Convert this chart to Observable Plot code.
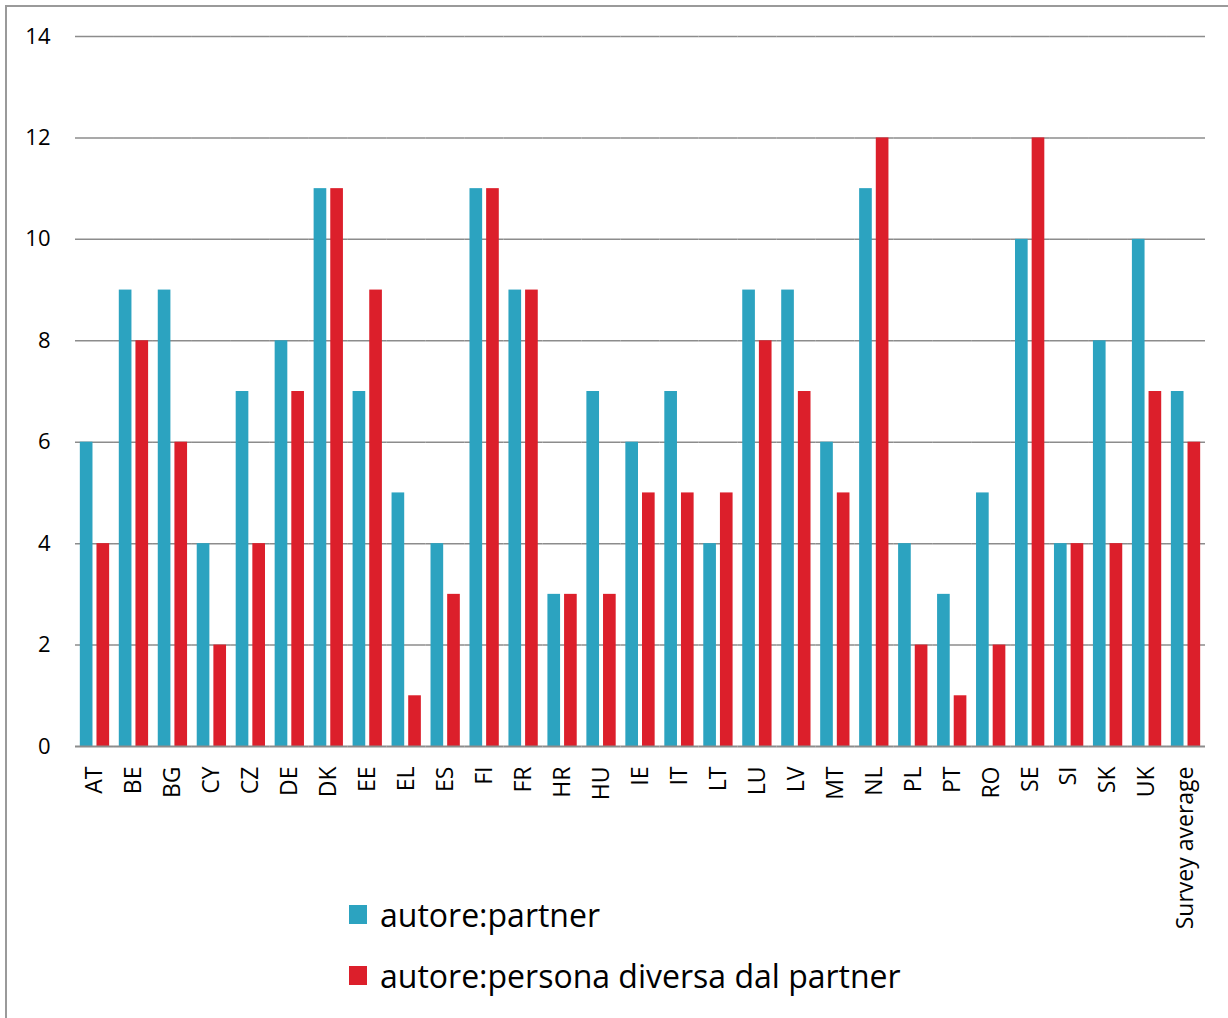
<!DOCTYPE html>
<html>
<head>
<meta charset="utf-8">
<script src="https://cdn.jsdelivr.net/npm/d3@7"></script>
<script src="https://cdn.jsdelivr.net/npm/@observablehq/plot@0.6"></script>
<style>
  html, body { margin: 0; padding: 0; background: #fff; }
  #wrap { position: relative; width: 1228px; height: 1018px; overflow: hidden; background: #fff; }
  #frame { position: absolute; left: 5px; top: 5px; width: 1240px; height: 1040px;
           border-left: 2px solid #9a9a9a; border-top: 2px solid #9a9a9a; box-sizing: border-box; }
  #chart { position: absolute; left: 0; top: 0; }
  #legend { position: absolute; left: 349px; top: 894px; font-family: "Open Sans", Lato, sans-serif;
            font-size: 32px; color: #000; display: flex; flex-direction: column; gap: 21px; }
  .item { display: flex; align-items: center; height: 40px; }
  .sw { width: 18px; height: 19px; margin-right: 13px; flex: none; }
</style>
</head>
<body>
<div id="wrap">
  <div id="frame"></div>
  <div id="chart"></div>
  <div id="legend"></div>
</div>
<script>
const categories = ["AT","BE","BG","CY","CZ","DE","DK","EE","EL","ES","FI","FR","HR","HU","IE","IT","LT","LU","LV","MT","NL","PL","PT","RO","SE","SI","SK","UK","Survey average"];
const partner = [6,9,9,4,7,8,11,7,5,4,11,9,3,7,6,7,4,9,9,6,11,4,3,5,10,4,8,10,7];
const other   = [4,8,6,2,4,7,11,9,1,3,11,9,3,3,5,5,5,8,7,5,12,2,1,2,12,4,4,7,6];
const seriesNames = ["autore:partner", "autore:persona diversa dal partner"];
const seriesColors = ["#2ca3c0", "#dc1f2b"];
const yTicks = [0, 2, 4, 6, 8, 10, 12, 14];

const data = [];
categories.forEach((c, i) => {
  data.push({cat: c, series: seriesNames[0], value: partner[i]});
  data.push({cat: c, series: seriesNames[1], value: other[i]});
});

const chart = Plot.plot({
  width: 1228,
  height: 1018,
  marginLeft: 75,
  marginRight: 23,
  marginTop: 36,
  marginBottom: 272,
  style: {fontFamily: "'Open Sans', sans-serif", fontSize: "20px", color: "#000", background: "transparent"},
  fx: {domain: categories, padding: 0, round: false, label: null},
  x: {domain: seriesNames, paddingInner: 0.24, paddingOuter: 0.29, round: false, axis: null},
  y: {domain: [0, 14], ticks: yTicks, label: null},
  color: {domain: seriesNames, range: seriesColors},
  marks: [
    Plot.gridY(yTicks.filter(d => d > 0), {stroke: "#8c8c8c", strokeOpacity: 1, strokeWidth: 1.5}),
    Plot.barY(data, {fx: "cat", x: "series", y: "value", fill: "series"}),
    Plot.ruleY([0], {stroke: "#8c8c8c", strokeWidth: 2}),
    Plot.axisY(yTicks, {tickSize: 0, tickPadding: 25, tickFormat: d => String(d), fontSize: 22, fontFamily: "'Open Sans', sans-serif", label: null}),
    Plot.axisFx({anchor: "bottom", tickRotate: -90, tickSize: 0, tickPadding: 20, fontSize: 23, fontFamily: "'Open Sans', sans-serif", label: null})
  ]
});
document.getElementById("chart").appendChild(chart);

const legend = document.getElementById("legend");
seriesNames.forEach((name, i) => {
  const item = document.createElement("div");
  item.className = "item";
  const sw = document.createElement("span");
  sw.className = "sw";
  sw.style.background = seriesColors[i];
  const label = document.createElement("span");
  label.textContent = name;
  item.appendChild(sw);
  item.appendChild(label);
  legend.appendChild(item);
});
</script>
</body>
</html>
